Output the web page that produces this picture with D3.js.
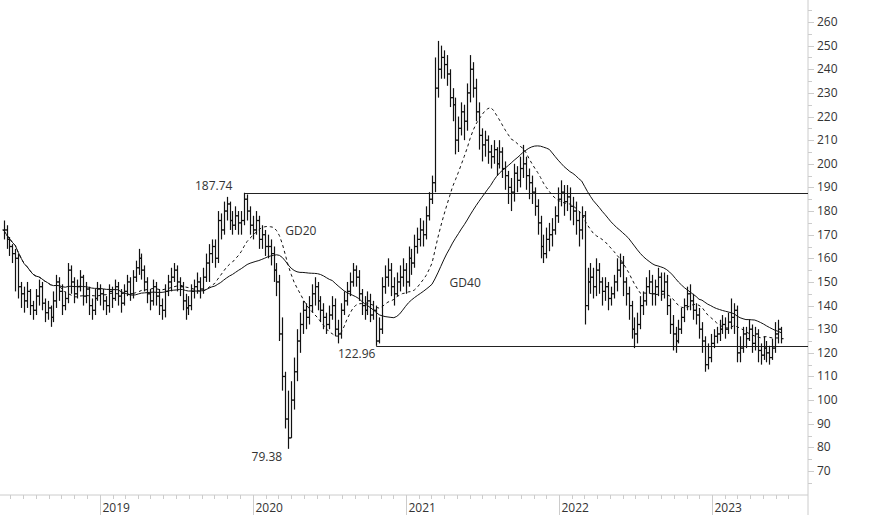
<!DOCTYPE html>
<html><head><meta charset="utf-8">
<script src="https://cdn.jsdelivr.net/npm/d3@7"></script>
<style>body{margin:0;background:#fff}svg{display:block}text{font-family:"Open Sans","Noto Sans",sans-serif;font-size:12px;fill:#333}</style>
</head><body><svg id="c" width="874" height="515"></svg>
<script>
const startDate = "2018-05-16";
const closes = [
172,168,165,162,160,148,145,142,146,140,
138,144,148,141,137,139,135,142,150,146,
140,143,155,150,145,148,152,144,147,140,
138,143,147,145,142,140,146,143,148,144,
141,146,150,145,152,156,160,155,150,145,
142,148,144,140,138,146,150,152,155,150,
148,142,139,140,146,148,150,147,152,158,
162,165,160,176,172,180,183,176,174,178,
175,176,185,180,174,172,176,168,170,165,
165,162,155,150,128,110,92,84,100,112,
125,132,138,135,140,145,148,142,138,135,
132,136,140,130,128,138,142,146,150,155,
152,145,140,138,142,136,138,125,130,148,
152,155,148,145,150,152,155,150,160,158,
165,168,172,170,178,185,192,232,240,245,
242,238,228,225,210,215,222,218,230,240,
232,222,212,208,210,205,203,206,200,205,
198,195,190,188,196,193,198,200,195,192,
188,182,175,165,162,168,170,172,178,185,
188,184,186,182,180,176,172,178,140,150,
152,148,155,150,146,148,143,145,150,155,
158,150,145,140,130,128,132,140,142,148,
150,145,148,152,146,150,140,132,128,125,
130,135,140,145,142,138,136,130,125,115,
118,124,127,128,130,132,130,133,135,138,
120,122,128,126,130,124,128,121,119,122,
120,118,122,128,130,126];
const highs = [
176,174,169,166,164,162,150,148,150,147,
142,147,151,150,143,142,140,146,153,152,
149,146,158,157,152,151,155,153,150,148,
143,147,150,149,147,144,149,148,151,150,
147,149,153,152,155,159,164,162,157,152,
147,151,150,147,143,149,153,156,158,157,
152,150,145,144,149,151,154,152,156,162,
166,168,168,180,179,184,186,184,180,182,
180,180,187.74,187,182,178,180,178,174,172,
170,168,165,158,153,135,112,104,108,118,
130,137,142,141,144,149,152,150,144,141,
137,140,144,143,134,141,146,150,154,158,
157,155,147,144,146,145,142,140,135,152,
157,160,158,152,154,157,160,158,165,164,
170,173,177,176,182,188,195,245,252,250,
248,246,240,232,228,220,226,225,234,246,
243,236,226,215,214,212,208,210,207,210,
207,201,197,194,200,199,203,208,203,198,
195,190,185,178,170,173,175,177,182,190,
193,191,191,190,186,184,180,182,180,156,
158,156,160,158,152,152,150,148,153,160,
162,161,152,148,142,135,137,144,146,152,
155,153,151,156,154,154,153,143,136,131,
134,139,143,148,149,145,141,139,133,127,
124,128,130,131,134,136,135,137,143,141,
140,127,131,131,134,132,131,130,124,127,
125,123,126,133,134,131];
const lows = [
168,164,161,158,146,143,139,137,139,136,
134,136,140,138,133,134,131,133,139,142,
136,138,141,145,141,143,146,140,141,136,
134,136,142,140,138,136,137,139,142,140,
137,140,144,142,143,150,153,151,146,141,
138,140,140,136,134,135,144,146,150,146,
144,138,134,136,138,143,145,143,145,150,
150,158,156,158,168,170,176,172,170,172,
170,170,174,176,170,168,170,164,164,161,
160,157,150,144,125,104,88,79.38,84,96,
108,120,128,130,132,137,140,138,133,130,
128,130,134,127,124,126,136,140,144,148,
148,142,136,134,136,133,134,122.96,124,128,
145,148,144,140,144,146,148,145,148,153,
156,162,165,165,168,176,183,188,228,236,
236,233,224,218,204,205,212,210,214,226,
228,218,206,201,203,200,198,200,195,198,
194,189,183,180,184,188,190,194,189,185,
183,178,170,160,158,160,163,165,170,175,
182,178,180,176,174,170,165,168,132,138,
145,143,144,145,140,142,138,140,143,146,
152,144,140,134,126,122,124,130,136,140,
145,140,140,144,142,143,136,128,121,120,
124,128,133,138,138,134,132,126,120,112,
113,116,122,124,125,128,126,128,130,128,
116,116,120,122,125,120,121,116,115,117,
116,115,117,120,124,124];
const yTicks = [70,80,90,100,110,120,130,140,150,160,170,180,190,200,210,220,230,240,250,260];
const levels = [{v:187.74, from:82, lx:195, ly:190},{v:122.96, from:127, lx:338, ly:358}];
const lowLabel = {v:79.38, i:97};
const maPeriods = [{n:20, name:"GD20", dash:"3,3", li:96, lv:170},{n:40, name:"GD40", dash:null, li:152, lv:148}];

const svg = d3.select("#c");
const W = 808, AX = 495;
const dates = closes.map((_, i) => d3.timeWeek.offset(new Date(startDate), i));
const x = d3.scaleTime().domain([new Date("2019-01-01"), new Date("2020-01-01")]).range([100, 253]);
const y = d3.scaleLinear().domain([70, 260]).range([471, 22]);

svg.append("line").attr("x1",0).attr("x2",W).attr("y1",AX).attr("y2",AX).attr("stroke","#ccc");
svg.append("line").attr("x1",W).attr("x2",W).attr("y1",0).attr("y2",515).attr("stroke","#ccc");
const months = d3.timeMonth.range(new Date("2018-05-01"), new Date("2023-08-01")).filter(d => x(d) >= 0 && x(d) < W);
months.forEach(d => {
  const isYear = d.getMonth() === 0, px = Math.round(x(d)) + 0.5;
  svg.append("line").attr("x1",px).attr("x2",px).attr("y1",AX).attr("y2",isYear?515:499).attr("stroke","#ccc");
  if (isYear) svg.append("text").attr("x",px+2).attr("y",512).text(d.getFullYear());
});
for (let v = 65; v <= 265; v += 5) {
  const py = Math.round(y(v)) + 0.5, major = v % 10 === 0;
  svg.append("line").attr("x1",W).attr("x2",W + (major?6:4)).attr("y1",py).attr("y2",py).attr("stroke","#ccc");
}
yTicks.forEach(v => svg.append("text").attr("x",817).attr("y",y(v)+4).text(v));

levels.forEach(L => {
  svg.append("line").attr("x1",x(dates[L.from])).attr("x2",W).attr("y1",Math.round(y(L.v))+0.5).attr("y2",Math.round(y(L.v))+0.5).attr("stroke","#222");
  svg.append("text").attr("x",L.lx).attr("y",L.ly).text(L.v.toFixed(2));
});
svg.append("text").attr("x",x(dates[lowLabel.i])-6).attr("y",y(lowLabel.v)+12).attr("text-anchor","end").text(lowLabel.v.toFixed(2));

const g = svg.append("g").attr("stroke","#111").attr("stroke-width",1.2);
closes.forEach((c, i) => {
  const px = Math.round(x(dates[i])) + 0.5;
  const o = i > 0 ? closes[i-1] : c;
  g.append("line").attr("x1",px).attr("x2",px).attr("y1",y(highs[i])).attr("y2",y(lows[i]));
  g.append("line").attr("x1",px-2).attr("x2",px).attr("y1",y(o)).attr("y2",y(o));
  g.append("line").attr("x1",px).attr("x2",px+2).attr("y1",y(c)).attr("y2",y(c));
});

maPeriods.forEach(m => {
  const ma = closes.map((_, i) => d3.mean(closes.slice(Math.max(0, i - m.n + 1), i + 1)));
  const line = d3.line().x((d, i) => x(dates[i])).y(d => y(d));
  const p = svg.append("path").attr("d", line(ma)).attr("fill","none").attr("stroke","#111").attr("stroke-width",1);
  if (m.dash) p.attr("stroke-dasharray", m.dash);
  svg.append("text").attr("x", x(dates[m.li])).attr("y", y(m.lv)).text(m.name);
});
</script></body></html>
